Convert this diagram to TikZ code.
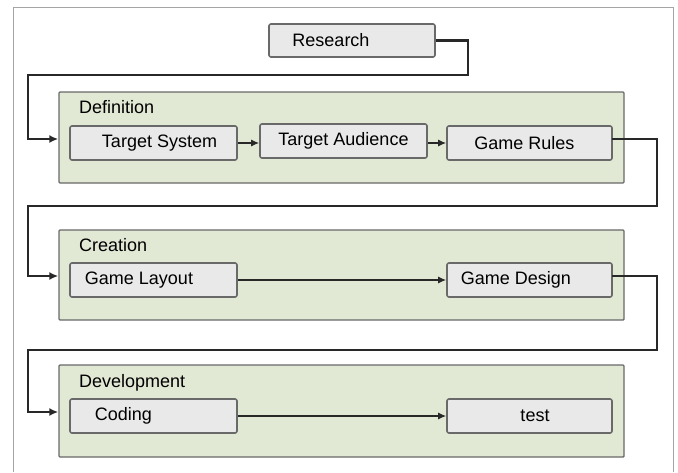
\documentclass[tikz,border=0pt]{standalone}
\usepackage{fontspec}
\setmainfont{Liberation Sans}
\usetikzlibrary{arrows.meta}
\definecolor{grpfill}{RGB}{225,232,211}
\definecolor{boxfill}{RGB}{233,233,233}
\definecolor{edgecol}{RGB}{105,105,105}
\definecolor{wirecol}{RGB}{40,40,40}
\definecolor{framecol}{RGB}{165,165,165}
\begin{document}
\begin{tikzpicture}[x=1pt,y=-1pt,
  font=\fontsize{18}{21}\selectfont,
  grp/.style={draw=edgecol, line width=1.4pt, fill=grpfill, rounded corners=1pt,
    minimum width=565pt, inner sep=0pt},
  stepbox/.style={draw=edgecol, line width=1.6pt, fill=boxfill, rounded corners=2pt,
    minimum width=167pt, minimum height=34pt, inner sep=0pt},
  grplabel/.style={anchor=west, inner sep=0pt},
  wire/.style={draw=wirecol, line width=2.4pt, -{Latex[length=9pt,width=8pt]}},
  link/.style={draw=wirecol, line width=1.3pt, -{Latex[length=8pt,width=7pt]}}]
\useasboundingbox (0,0) rectangle (678,472);
% outer frame
\draw[framecol, line width=0.8pt] (13,472) -- (13,7) -- (673,7) -- (673,472);

% groups
\node[grp, minimum height=91pt] (def) at (341.5,137.5) {};
\node[grp, minimum height=90pt] (cre) at (341.5,275) {};
\node[grp, minimum height=92pt] (dev) at (341.5,411) {};
\node[grplabel] (defl) at (79,107) {Definition};
\node[grplabel] (crel) at (79,245) {Creation};
\node[grplabel] (devl) at (79,383) {Development};

% boxes
\node[stepbox, minimum width=166pt, minimum height=33pt] (res) at (352,40.5) {Research\hspace*{42pt}};
\node[stepbox] (ts) at (153.5,143) {\hspace*{12pt}Target System};
\node[stepbox] (ta) at (343.5,141) {Target Audience};
\node[stepbox, minimum width=165pt] (gr) at (529.5,143) {Game Rules\hspace*{10pt}};
\node[stepbox] (gl) at (153.5,280) {Game Layout\hspace*{29pt}};
\node[stepbox, minimum width=165pt] (gd) at (529.5,280) {Game Design\hspace*{27pt}};
\node[stepbox] (cod) at (153.5,416) {Coding\hspace*{60pt}};
\node[stepbox, minimum width=165pt] (tst) at (529.5,416) {\hspace*{11pt}test};

% route corners
\coordinate (a1) at (468,40.5);
\coordinate (a2) at (468,75);
\coordinate (a3) at (28,75);
\coordinate (a4) at (28,139);
\coordinate (b0) at (612,139);
\coordinate (b1) at (657,139);
\coordinate (b2) at (657,206);
\coordinate (b3) at (28,206);
\coordinate (b4) at (28,276);
\coordinate (c0) at (612,276);
\coordinate (c1) at (657,276);
\coordinate (c2) at (657,350);
\coordinate (c3) at (28,350);
\coordinate (c4) at (28,412);

% main connectors
\draw[wire] (res.east) -- (a1) -- (a2) -- (a3) -- (a4) -- (def.west |- a4);
\draw[wire] (b0) -- (b1) -- (b2) -- (b3) -- (b4) -- (cre.west |- b4);
\draw[wire] (c0) -- (c1) -- (c2) -- (c3) -- (c4) -- (dev.west |- c4);

% inner links
\draw[link] (ts.east) -- (ta.west |- ts.east);
\draw[link] (ta.east |- ts.east) -- (gr.west);
\draw[link] (gl.east) -- (gd.west);
\draw[link] (cod.east) -- (tst.west);
\end{tikzpicture}
\end{document}
